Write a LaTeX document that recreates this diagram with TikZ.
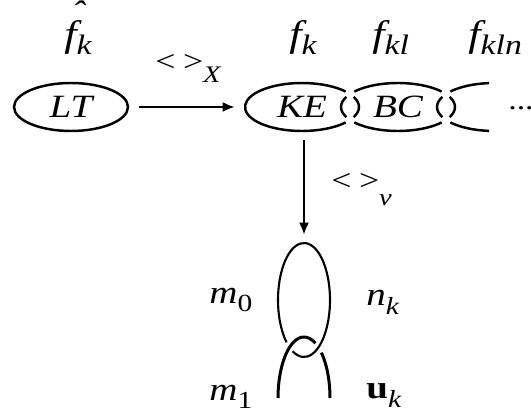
\documentclass[tikz,border=0pt]{standalone}
\usepackage{fontspec}
\setmainfont{Liberation Serif}[FakeStretch=1.2]
\usetikzlibrary{shapes.geometric,arrows.meta}

\newcommand\mainsize{\fontsize{18.5}{20}\selectfont}
\newcommand\subsize{\fontsize{14}{14}\selectfont}
\newcommand\lowsub[2]{#1\raisebox{-0.28em}{\subsize #2}}
\newcommand\fsub[1]{{\fontsize{21}{22}\selectfont f}\raisebox{-0.22em}{\fontsize{16}{16}\selectfont #1}}
\newcommand\hatmark{\makebox[0pt][l]{\hspace{0.22em}\raisebox{0.72em}{\symbol{"02C6}}}}

\begin{document}
\begin{tikzpicture}[x=0.02cm, y=0.02cm,
            link/.style={ellipse, minimum width=2.28cm, minimum height=0.96cm, inner sep=0pt, font=\mainsize\itshape},
            lbl/.style={anchor=base west, inner sep=0pt, font=\mainsize\itshape},
            avg/.style={anchor=base west, inner sep=0pt, font=\fontsize{17}{17}\selectfont},
            conn/.style={line width=1.1pt, -{Latex[length=2.4mm, width=2mm]}},
            ring/.style={line width=1.4pt},
        ]
            \useasboundingbox (0,0) rectangle (531,413);

            % left term and the chain
            \node[link, draw, ring] (lt) at (71,306) {LT};
            \node[link] (ke) at (302,306) {KE};
            \node[link] (bc) at (398,306) {BC};
            \coordinate (nx) at (494,306);

            \draw[ring] (ke.center) ++(40:1.14cm and 0.48cm) arc[start angle=40, end angle=320, x radius=1.14cm, y radius=0.48cm];
            \draw[ring] (ke.center) ++(-25:1.14cm and 0.48cm) arc[start angle=-25, end angle=25, x radius=1.14cm, y radius=0.48cm];
            \draw[ring] (bc.center) ++(40:1.14cm and 0.48cm) arc[start angle=40, end angle=140, x radius=1.14cm, y radius=0.48cm];
            \draw[ring] (bc.center) ++(155:1.14cm and 0.48cm) arc[start angle=155, end angle=205, x radius=1.14cm, y radius=0.48cm];
            \draw[ring] (bc.center) ++(220:1.14cm and 0.48cm) arc[start angle=220, end angle=320, x radius=1.14cm, y radius=0.48cm];
            \draw[ring] (bc.center) ++(-25:1.14cm and 0.48cm) arc[start angle=-25, end angle=25, x radius=1.14cm, y radius=0.48cm];
            \draw[ring] (nx) ++(140:1.14cm and 0.48cm) arc[start angle=140, end angle=95, x radius=1.14cm, y radius=0.48cm];
            \draw[ring] (nx) ++(155:1.14cm and 0.48cm) arc[start angle=155, end angle=205, x radius=1.14cm, y radius=0.48cm];
            \draw[ring] (nx) ++(220:1.14cm and 0.48cm) arc[start angle=220, end angle=265, x radius=1.14cm, y radius=0.48cm];
            \node[lbl, font=\fontsize{16}{16}\selectfont] (dots) at (508,303) {...};

            % the two links below
            \node[ellipse, minimum width=1.04cm, minimum height=2.28cm, inner sep=0pt] (upl) at (304,113) {};
            \coordinate (lowl) at (304,15);
            \draw[line width=1.2pt] (upl.center) ++(244:0.52cm and 1.14cm) arc[start angle=244, end angle=588, x radius=0.52cm, y radius=1.14cm];
            \draw[line width=1.7pt] (lowl) ++(180:0.52cm and 1.22cm) arc[start angle=180, end angle=64, x radius=0.52cm, y radius=1.22cm];
            \draw[line width=1.7pt] (lowl) ++(48:0.52cm and 1.22cm) arc[start angle=48, end angle=0, x radius=0.52cm, y radius=1.22cm];

            % arrows
            \draw[conn, shorten <=0.2cm, shorten >=0.2cm] (lt.east) -- (lt.east -| ke.west);
            \draw[conn, shorten <=0.18cm, shorten >=0.16cm] (ke.south -| upl.north) -- (upl.north);

            % labels
            \node[lbl] (fhat) at (64,366) {\hatmark\fsub{k}};
            \node[lbl] (fk) at (289,366) {\fsub{k}};
            \node[lbl] (fkl) at (372,366) {\fsub{kl}};
            \node[lbl] (fkln) at (468,366) {\fsub{kln}};
            \node[avg] (avgx) at (155,341) {<\hspace{0.25em}>\raisebox{-6pt}{\fontsize{13.5}{13.5}\selectfont\itshape X}};
            \node[avg] (avgv) at (331,222) {<\hspace{0.25em}>\raisebox{-8pt}{\fontsize{13.5}{13.5}\selectfont\itshape v}};
            \node[lbl] (m0) at (209,110) {m\raisebox{-0.27em}{\subsize\upshape 0}};
            \node[lbl] (m1) at (209,13) {m\raisebox{-0.27em}{\subsize\upshape 1}};
            \node[lbl] (nk) at (366,108) {\lowsub{n}{k}};
            \node[lbl] (uk) at (366,15) {\lowsub{\textup{\textbf{u}}}{k}};
        \end{tikzpicture}
\end{document}
